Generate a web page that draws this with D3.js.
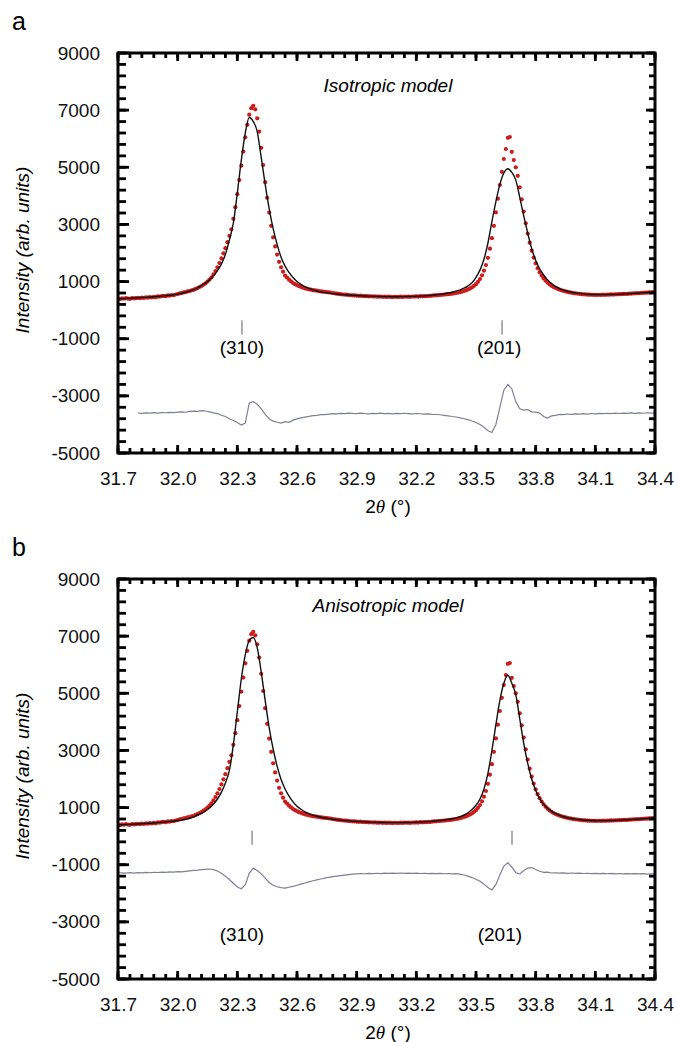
<!DOCTYPE html>
<html>
<head>
<meta charset="utf-8">
<title>Isotropic / anisotropic fit</title>
<script src="https://cdn.jsdelivr.net/npm/d3@7"></script>
<style>
    body { margin: 0; background: #fff; }
    svg { display: block; font-family: "Liberation Sans", Arial, sans-serif; }
    .tick text { font-size: 19px; fill: #111; }
    .calc { fill: none; stroke: #111; stroke-width: 1.4px; }
    .diff { fill: none; stroke: #7d8098; stroke-width: 1.2px; }
    .obs { fill: #cc1c1c; }
    .bragg { stroke: #9a9a9a; stroke-width: 1.6px; }
</style>
</head>
<body>
<script>
// observed pattern, 2theta from 31.70 step 0.01
var obsStart = 31.70, obsStep = 0.01;
var observed = [
    400, 385, 415, 398, 420, 405, 392, 425, 410, 418,
    430, 418, 440, 425, 448, 436, 455, 442, 462, 450,
    480, 470, 492, 500, 488, 515, 505, 530, 522, 548,
    565, 585, 598, 620, 632, 655, 668, 692, 712, 742,
    770, 810, 845, 895, 940, 1000, 1070, 1150, 1250, 1370,
    1500, 1650, 1810, 1990, 2170, 2380, 2600, 2830, 3195, 3605,
    4060, 4555, 5055, 5550, 6050, 6485, 6840, 7070, 7150, 7030,
    6715, 6250, 5680, 5080, 4480, 3930, 3415, 2950, 2550, 2230,
    1945, 1690, 1500, 1345, 1210, 1140, 1065, 1005, 950, 910,
    875, 840, 815, 785, 765, 745, 730, 715, 700, 690,
    680, 668, 655, 648, 640, 632, 625, 615, 600, 590,
    575, 568, 560, 548, 545, 540, 530, 522, 518, 515,
    510, 502, 505, 495, 492, 490, 482, 486, 478, 480,
    475, 470, 478, 466, 472, 462, 470, 465, 458, 468,
    465, 460, 470, 462, 475, 468, 472, 465, 478, 474,
    480, 476, 488, 482, 494, 490, 502, 498, 510, 514,
    520, 525, 532, 538, 545, 555, 560, 568, 575, 588,
    600, 615, 630, 650, 670, 695, 725, 760, 800, 850,
    910, 990, 1090, 1220, 1380, 1580, 1830, 2150, 2520, 2950,
    3420, 3900, 4380, 4840, 5290, 5640, 6030, 6060, 5540, 5255,
    5000, 4700, 4300, 3880, 3450, 3040, 2680, 2360, 2080, 1840,
    1640, 1470, 1330, 1210, 1110, 1030, 960, 900, 850, 810,
    775, 745, 720, 695, 675, 655, 640, 625, 610, 598,
    587, 580, 570, 562, 555, 550, 545, 540, 538, 536,
    535, 530, 538, 532, 540, 536, 544, 540, 550, 546,
    555, 552, 560, 558, 566, 570, 568, 576, 580, 585,
    590, 595, 592, 602, 606, 612, 610, 620, 624, 630,
    635
];

// calculated profiles and differences, 2theta from 31.70 step 0.02
var gridStart = 31.70, gridStep = 0.02;
var calcIso = [
    400, 405, 410, 418, 425, 432, 440, 448, 458, 468,
    480, 492, 505, 520, 537, 560, 590, 625, 665, 715,
    775, 860, 950, 1060, 1200, 1380, 1620, 1950, 2450, 3050,
    4100, 5250, 6200, 6740, 6600, 6250, 5350, 4400, 3550, 2850,
    2300, 1850, 1540, 1320, 1140, 1000, 900, 820, 760, 710,
    670, 640, 615, 595, 578, 563, 550, 538, 528, 519,
    511, 504, 497, 491, 486, 481, 477, 474, 472, 471,
    471, 472, 474, 477, 481, 486, 492, 500, 509, 520,
    537, 553, 573, 598, 628, 665, 710, 770, 850, 960,
    1150, 1400, 1780, 2350, 3100, 3800, 4400, 4800, 4950, 4820,
    4550, 3950, 3300, 2700, 2150, 1750, 1450, 1230, 1060, 930,
    830, 755, 700, 660, 628, 603, 585, 570, 558, 550,
    545, 542, 542, 544, 548, 553, 559, 566, 574, 582,
    591, 600, 609, 618, 627, 636
];
var calcAniso = [
    395, 400, 406, 413, 420, 427, 435, 443, 452, 462,
    473, 485, 498, 512, 528, 546, 566, 592, 625, 675,
    740, 800, 880, 985, 1120, 1300, 1540, 1860, 2300, 3200,
    4350, 5500, 6350, 6850, 6950, 6600, 5750, 4750, 3800, 3050,
    2450, 1980, 1650, 1400, 1200, 1050, 940, 850, 785, 735,
    695, 660, 635, 612, 592, 575, 560, 547, 535, 524,
    515, 507, 500, 494, 488, 483, 479, 476, 474, 473,
    473, 474, 476, 479, 483, 488, 494, 501, 509, 519,
    533, 548, 565, 585, 610, 640, 680, 740, 820, 930,
    1080, 1300, 1650, 2200, 3000, 3900, 4750, 5350, 5630, 5350,
    4950, 4100, 3250, 2550, 2000, 1600, 1320, 1120, 975, 865,
    785, 725, 680, 645, 617, 595, 580, 567, 557, 550,
    545, 542, 542, 544, 548, 553, 559, 566, 574, 582,
    591, 600, 609, 618, 627, 636
];
var diffIso = [
    null, null, null, null, null, -3600, -3612, -3595, -3606, -3590,
    -3602, -3585, -3592, -3576, -3584, -3568, -3560, -3574, -3545, -3532,
    -3541, -3516, -3530, -3562, -3598, -3622, -3680, -3722, -3800, -3862,
    -3930, -4020, -3950, -3250, -3200, -3290, -3450, -3650, -3800, -3885,
    -3925, -3955, -3900, -3925, -3850, -3805, -3770, -3745, -3720, -3690,
    -3682, -3660, -3655, -3638, -3622, -3632, -3610, -3622, -3602, -3614,
    -3622, -3605, -3618, -3628, -3610, -3620, -3606, -3625, -3612, -3630,
    -3615, -3624, -3608, -3620, -3632, -3618, -3626, -3640, -3632, -3645,
    -3652, -3662, -3680, -3698, -3722, -3740, -3768, -3800, -3832, -3880,
    -3930, -4000, -4100, -4220, -4280, -4000, -3400, -2800, -2600, -2750,
    -3200, -3450, -3500, -3480, -3560, -3570, -3602, -3720, -3780, -3702,
    -3680, -3648, -3660, -3635, -3648, -3630, -3642, -3625, -3636, -3618,
    -3630, -3612, -3625, -3608, -3620, -3605, -3618, -3602, -3615, -3598,
    -3610, -3595, -3608, -3592, -3605, -3600
];
var diffAniso = [
    -1290, -1284, -1296, -1280, -1292, -1275, -1286, -1270, -1282, -1265,
    -1272, -1256, -1266, -1250, -1256, -1240, -1250, -1232, -1215, -1200,
    -1190, -1175, -1160, -1150, -1170, -1220, -1300, -1400, -1520, -1650,
    -1780, -1840, -1700, -1300, -1120, -1200, -1320, -1470, -1620, -1720,
    -1770, -1800, -1820, -1790, -1760, -1720, -1680, -1640, -1600, -1560,
    -1530, -1500, -1470, -1440, -1420, -1400, -1380, -1362, -1346, -1330,
    -1320, -1308, -1316, -1302, -1312, -1298, -1310, -1296, -1306, -1292,
    -1304, -1290, -1302, -1294, -1306, -1296, -1308, -1298, -1310, -1300,
    -1312, -1304, -1316, -1308, -1318, -1315, -1330, -1360, -1400, -1450,
    -1510, -1580, -1680, -1800, -1880, -1700, -1350, -1050, -930, -1080,
    -1280, -1320, -1200, -1120, -1100, -1170, -1230, -1270, -1258, -1290,
    -1282, -1296, -1286, -1300, -1290, -1304, -1294, -1308, -1298, -1310,
    -1300, -1314, -1304, -1316, -1306, -1318, -1308, -1320, -1310, -1322,
    -1312, -1324, -1314, -1326, -1316, -1322
];

// reflections (Bragg positions) and their labels
var reflections = ["(310)", "(201)"];
var braggIso = [32.323, 33.631];
var braggAniso = [32.374, 33.681];
var hklLabelIso = [32.323, 33.616];
var hklLabelAniso = [32.323, 33.62];

// axes
var xTicks = [31.7, 32.0, 32.3, 32.6, 32.9, 33.2, 33.5, 33.8, 34.1, 34.4];
var xTickLabelsIso = ["31.7", "32.0", "32.3", "32.6", "32.9", "32.2", "33.5", "33.8", "34.1", "34.4"];
var xTickLabelsAniso = ["31.7", "32.0", "32.3", "32.6", "32.9", "33.2", "33.5", "33.8", "34.1", "34.4"];
var yTicks = [-5000, -3000, -1000, 1000, 3000, 5000, 7000, 9000];

var width = 678, height = 1042;
var left = 118, right = 655, plotH = 400;

var panels = [
    { letter: "a", top: 53, title: "Isotropic model", titleY: 7650, calc: calcIso, diff: diffIso,
      bragg: braggIso, braggY: [-350, -850], hklX: hklLabelIso, hklY: -1300, xLabels: xTickLabelsIso },
    { letter: "b", top: 579, title: "Anisotropic model", titleY: 7830, calc: calcAniso, diff: diffAniso,
      bragg: braggAniso, braggY: [190, -300], hklX: hklLabelAniso, hklY: -3420, xLabels: xTickLabelsAniso }
];

var svg = d3.select("body").append("svg")
    .attr("width", width)
    .attr("height", height);

var x = d3.scaleLinear().domain([31.7, 34.4]).range([left, right]);

var obsPts = observed.map(function(v, i) { return { t: obsStart + i * obsStep, v: v }; });

var xMinor = d3.range(0, 46).map(function(i) { return 31.7 + i * 0.06; });
var yMinor = d3.range(0, 36).map(function(i) { return -5000 + i * 400; });

panels.forEach(function(p) {
    var y = d3.scaleLinear().domain([-5000, 9000]).range([p.top + plotH, p.top]);
    var bottom = p.top + plotH;
    var g = svg.append("g");

    var gridPts = function(arr) {
        return arr.map(function(v, i) { return { t: gridStart + i * gridStep, v: v }; });
    };

    var clip = "clip-" + p.letter;
    svg.append("clipPath").attr("id", clip)
        .append("rect").attr("x", left).attr("y", p.top).attr("width", right - left).attr("height", plotH);

    var plot = g.append("g").attr("clip-path", "url(#" + clip + ")");

    // difference curve
    var diffLine = d3.line()
        .defined(function(d) { return d.v !== null; })
        .x(function(d) { return x(d.t); })
        .y(function(d) { return y(d.v); });
    plot.append("path").attr("class", "diff").attr("d", diffLine(gridPts(p.diff)));

    // observed points
    plot.selectAll("circle.obs")
        .data(obsPts)
        .enter().append("circle")
            .attr("class", "obs")
            .attr("cx", function(d) { return x(d.t); })
            .attr("cy", function(d) { return y(d.v); })
            .attr("r", 2.1);

    // calculated profile
    var calcLine = d3.line()
        .curve(d3.curveMonotoneX)
        .x(function(d) { return x(d.t); })
        .y(function(d) { return y(d.v); });
    plot.append("path").attr("class", "calc").attr("d", calcLine(gridPts(p.calc)));

    // Bragg markers + hkl labels
    g.selectAll("line.bragg")
        .data(p.bragg)
        .enter().append("line")
            .attr("class", "bragg")
            .attr("x1", function(d) { return x(d); })
            .attr("x2", function(d) { return x(d); })
            .attr("y1", y(p.braggY[0]))
            .attr("y2", y(p.braggY[1]));

    g.selectAll("text.hkl")
        .data(reflections)
        .enter().append("text")
            .attr("class", "hkl")
            .attr("x", function(d, i) { return x(p.hklX[i]); })
            .attr("y", y(p.hklY))
            .attr("dy", "0.35em")
            .attr("text-anchor", "middle")
            .style("font-size", "19px")
            .text(function(d) { return d; });

    g.append("text")
        .attr("x", 388)
        .attr("y", y(p.titleY))
        .attr("text-anchor", "middle")
        .style("font-size", "19px")
        .style("font-style", "italic")
        .text(p.title);

    // frame
    g.append("rect")
        .attr("x", left).attr("y", p.top)
        .attr("width", right - left).attr("height", plotH)
        .attr("fill", "none")
        .attr("stroke", "#000")
        .attr("stroke-width", 3);

    // tick labels from d3 axes
    g.append("g").attr("transform", "translate(0," + bottom + ")")
        .call(d3.axisBottom(x).tickValues(xTicks).tickSize(0).tickPadding(18.5)
            .tickFormat(function(d, i) { return p.xLabels[i]; }))
        .call(function(a) { a.select(".domain").remove(); });
    g.append("g").attr("transform", "translate(" + left + ",0)")
        .call(d3.axisLeft(y).tickValues(yTicks).tickSize(0).tickPadding(18)
            .tickFormat(function(d) { return String(d); }))
        .call(function(a) { a.select(".domain").remove(); });

    // inward tick marks on all four sides
    var marks = g.append("g");
    function xMarks(vals, len) {
        marks.selectAll(null).data(vals).enter().append("line")
            .attr("stroke", "#000").attr("stroke-width", 2.8)
            .attr("x1", function(d) { return x(d); }).attr("x2", function(d) { return x(d); })
            .attr("y1", bottom).attr("y2", bottom - len);
        marks.selectAll(null).data(vals).enter().append("line")
            .attr("stroke", "#000").attr("stroke-width", 2.8)
            .attr("x1", function(d) { return x(d); }).attr("x2", function(d) { return x(d); })
            .attr("y1", p.top).attr("y2", p.top + len);
    }
    function yMarks(vals, lenL, lenR) {
        marks.selectAll(null).data(vals).enter().append("line")
            .attr("stroke", "#000").attr("stroke-width", 2.8)
            .attr("y1", function(d) { return y(d); }).attr("y2", function(d) { return y(d); })
            .attr("x1", left).attr("x2", left + lenL);
        marks.selectAll(null).data(vals).enter().append("line")
            .attr("stroke", "#000").attr("stroke-width", 2.8)
            .attr("y1", function(d) { return y(d); }).attr("y2", function(d) { return y(d); })
            .attr("x1", right).attr("x2", right - lenR);
    }
    xMarks(xMinor, 5);
    xMarks(xTicks, 8);
    yMarks(yMinor, 8, 6);
    yMarks(yTicks, 11, 9);

    // axis titles
    var xt = g.append("text")
        .attr("x", 388)
        .attr("y", bottom + 60)
        .attr("text-anchor", "middle")
        .style("font-size", "19px");
    xt.append("tspan").text("2");
    xt.append("tspan").style("font-style", "italic").style("font-family", "'Liberation Serif', serif").text("\u03B8");
    xt.append("tspan").text(" (\u00B0)");

    g.append("text")
        .attr("transform", "translate(29," + (p.top + plotH / 2 - 3) + ") rotate(-90)")
        .attr("text-anchor", "middle")
        .style("font-size", "19px")
        .style("font-style", "italic")
        .text("Intensity (arb. units)");

    g.append("text")
        .attr("x", 12)
        .attr("y", p.top - 23)
        .style("font-size", "25px")
        .text(p.letter);
});
</script>
</body>
</html>
